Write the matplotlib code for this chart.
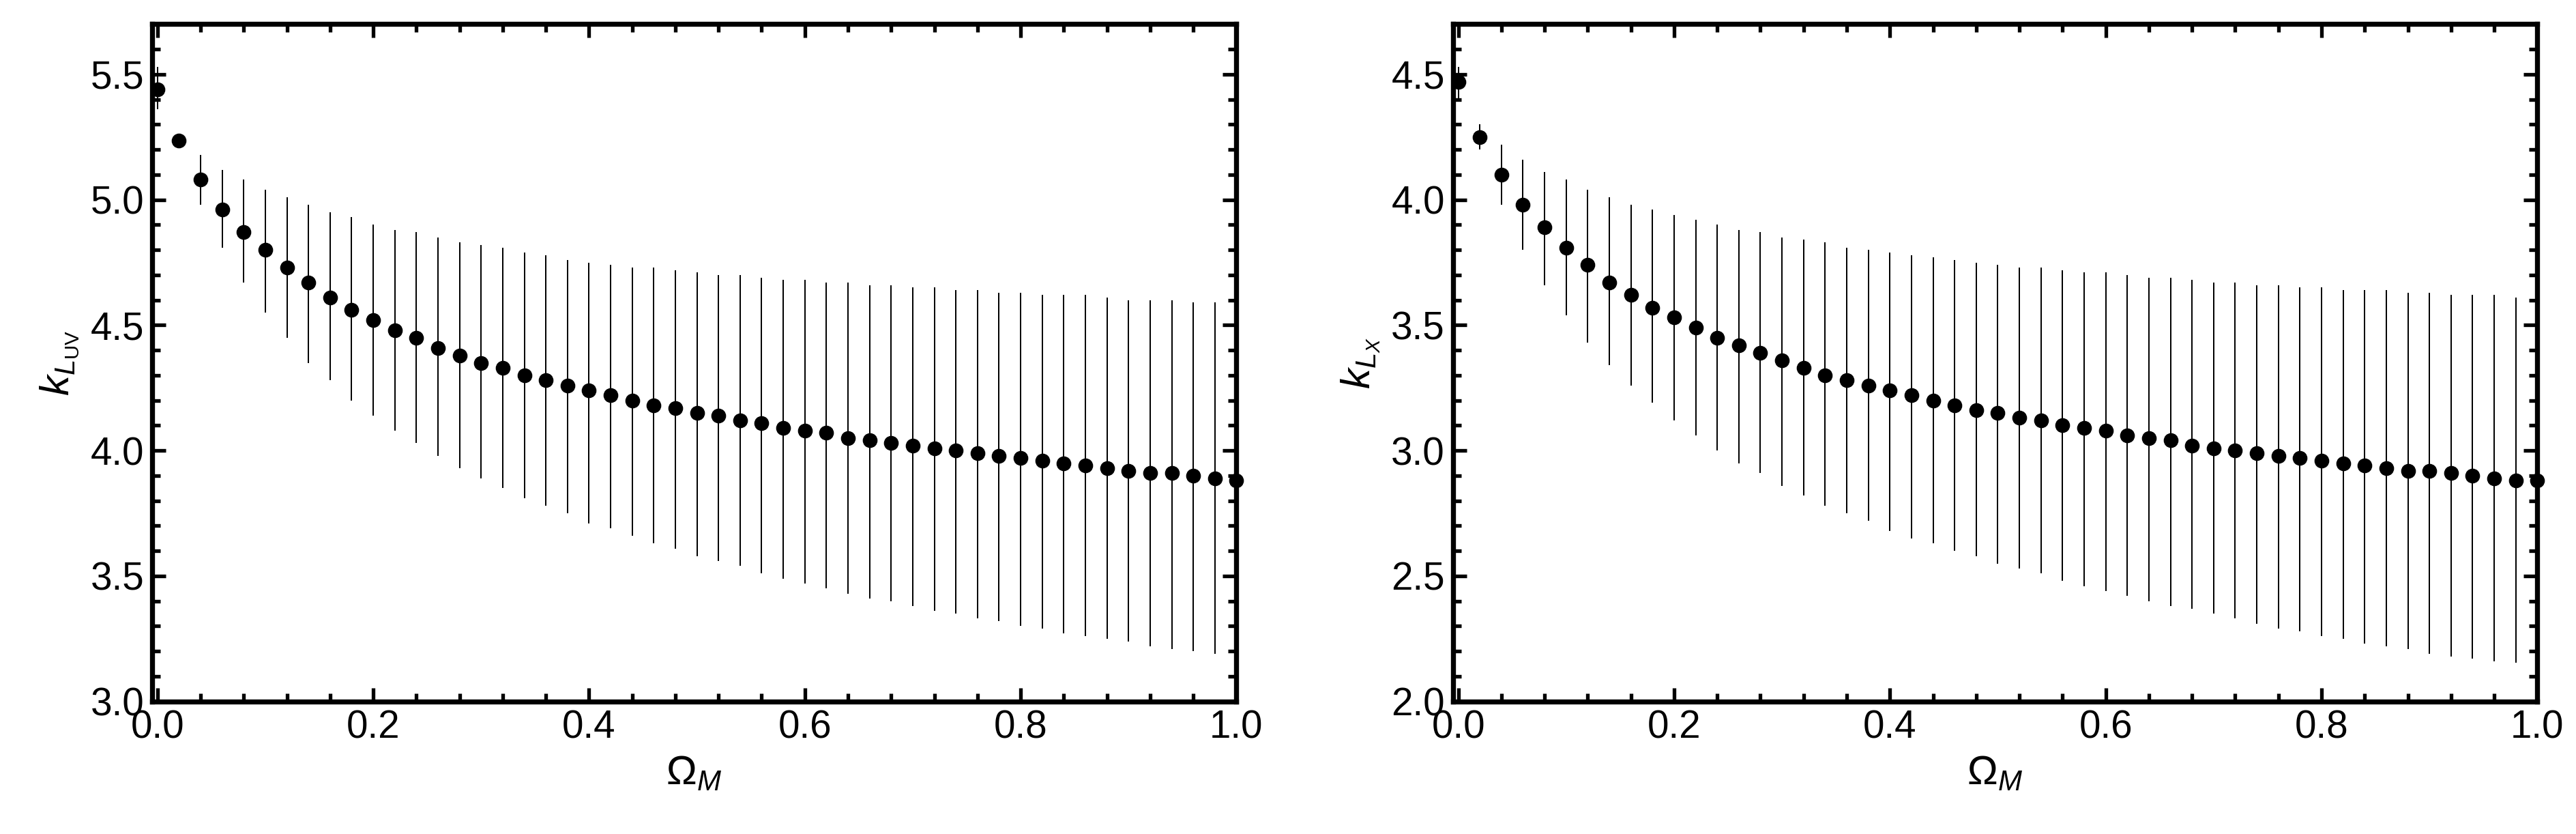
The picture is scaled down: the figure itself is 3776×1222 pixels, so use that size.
import numpy as np
import matplotlib
matplotlib.use("Agg")
import matplotlib.pyplot as plt
from matplotlib.ticker import MultipleLocator

plt.rcParams["font.family"] = ["Liberation Sans Narrow", "Liberation Sans", "DejaVu Sans"]
plt.rcParams["mathtext.fontset"] = "custom"
plt.rcParams["mathtext.rm"] = "Liberation Sans"
plt.rcParams["mathtext.it"] = "Liberation Sans:italic"

omega_m = np.round(np.arange(0, 1.0001, 0.02), 2)

# left panel: k_L_UV
k_uv = [5.44, 5.235, 5.08, 4.96, 4.87, 4.80, 4.73, 4.67, 4.61, 4.56,
        4.52, 4.48, 4.45, 4.41, 4.38, 4.35, 4.33, 4.30, 4.28, 4.26,
        4.24, 4.22, 4.20, 4.18, 4.17, 4.15, 4.14, 4.12, 4.11, 4.09,
        4.08, 4.07, 4.05, 4.04, 4.03, 4.02, 4.01, 4.00, 3.99, 3.98,
        3.97, 3.96, 3.95, 3.94, 3.93, 3.92, 3.91, 3.91, 3.90, 3.89, 3.88]
k_uv_hi = [5.53, 5.25, 5.18, 5.12, 5.08, 5.04, 5.01, 4.98, 4.95, 4.93,
           4.90, 4.88, 4.87, 4.85, 4.83, 4.82, 4.81, 4.79, 4.78, 4.76,
           4.75, 4.74, 4.73, 4.73, 4.72, 4.71, 4.70, 4.70, 4.69, 4.68,
           4.68, 4.67, 4.67, 4.66, 4.66, 4.65, 4.65, 4.64, 4.64, 4.63,
           4.63, 4.62, 4.62, 4.62, 4.61, 4.60, 4.60, 4.60, 4.59, 4.59, 4.59]
k_uv_lo = [5.36, 5.22, 4.98, 4.81, 4.67, 4.55, 4.45, 4.35, 4.28, 4.20,
           4.14, 4.08, 4.03, 3.98, 3.93, 3.89, 3.85, 3.81, 3.78, 3.75,
           3.71, 3.69, 3.66, 3.63, 3.61, 3.58, 3.56, 3.54, 3.51, 3.49,
           3.47, 3.45, 3.43, 3.41, 3.40, 3.38, 3.36, 3.35, 3.33, 3.32,
           3.30, 3.29, 3.27, 3.26, 3.25, 3.24, 3.22, 3.21, 3.20, 3.19, 3.18]

# right panel: k_L_X
k_x = [4.47, 4.25, 4.10, 3.98, 3.89, 3.81, 3.74, 3.67, 3.62, 3.57,
       3.53, 3.49, 3.45, 3.42, 3.39, 3.36, 3.33, 3.30, 3.28, 3.26,
       3.24, 3.22, 3.20, 3.18, 3.16, 3.15, 3.13, 3.12, 3.10, 3.09,
       3.08, 3.06, 3.05, 3.04, 3.02, 3.01, 3.00, 2.99, 2.98, 2.97,
       2.96, 2.95, 2.94, 2.93, 2.92, 2.92, 2.91, 2.90, 2.89, 2.88, 2.88]
k_x_hi = [4.53, 4.30, 4.22, 4.16, 4.11, 4.08, 4.04, 4.01, 3.98, 3.96,
          3.94, 3.92, 3.90, 3.88, 3.87, 3.85, 3.84, 3.83, 3.81, 3.80,
          3.79, 3.78, 3.77, 3.76, 3.75, 3.74, 3.73, 3.73, 3.72, 3.71,
          3.71, 3.70, 3.69, 3.69, 3.68, 3.67, 3.67, 3.66, 3.66, 3.65,
          3.65, 3.64, 3.64, 3.64, 3.63, 3.63, 3.62, 3.62, 3.62, 3.61, 3.61]
k_x_lo = [4.40, 4.20, 3.98, 3.80, 3.66, 3.54, 3.43, 3.34, 3.26, 3.19,
          3.12, 3.06, 3.00, 2.95, 2.91, 2.86, 2.82, 2.78, 2.75, 2.72,
          2.68, 2.65, 2.63, 2.60, 2.58, 2.55, 2.53, 2.51, 2.48, 2.46,
          2.44, 2.42, 2.40, 2.38, 2.37, 2.35, 2.33, 2.31, 2.29, 2.28,
          2.26, 2.25, 2.23, 2.22, 2.21, 2.19, 2.18, 2.17, 2.16, 2.155, 2.15]

fig = plt.figure(figsize=(3776 / 240, 1222 / 240), dpi=240)
ax1 = fig.add_axes([0.059, 0.159, 0.421, 0.812])
ax2 = fig.add_axes([0.564, 0.159, 0.421, 0.812])

panels = [
    (ax1, k_uv, k_uv_lo, k_uv_hi, (3.0, 5.7), r"$k_{L_{\mathrm{UV}}}$"),
    (ax2, k_x, k_x_lo, k_x_hi, (2.0, 4.7), r"$k_{L_X}$"),
]

for ax, y, lo, hi, ylim, ylabel in panels:
    y = np.array(y)
    err = [y - np.array(lo), np.array(hi) - y]
    ax.errorbar(omega_m, y, yerr=err, fmt="o", color="black", ms=5.5,
                elinewidth=0.6, capsize=0, clip_on=False, zorder=3)
    ax.set_xlim(-0.005, 1.0)
    ax.set_ylim(*ylim)
    ax.xaxis.set_major_locator(MultipleLocator(0.2))
    ax.xaxis.set_minor_locator(MultipleLocator(0.04))
    ax.yaxis.set_major_locator(MultipleLocator(0.5))
    ax.yaxis.set_minor_locator(MultipleLocator(0.1))
    ax.tick_params(which="both", direction="in", top=True, right=True,
                   labelsize=17, width=1.6)
    ax.tick_params(which="major", length=6)
    ax.tick_params(which="minor", length=3.5)
    for s in ax.spines.values():
        s.set_linewidth(2.2)
    ax.set_xlabel(r"$\Omega_M$", fontsize=18)
    ax.set_ylabel(ylabel, fontsize=18)

fig.savefig("out.png", dpi=240)
